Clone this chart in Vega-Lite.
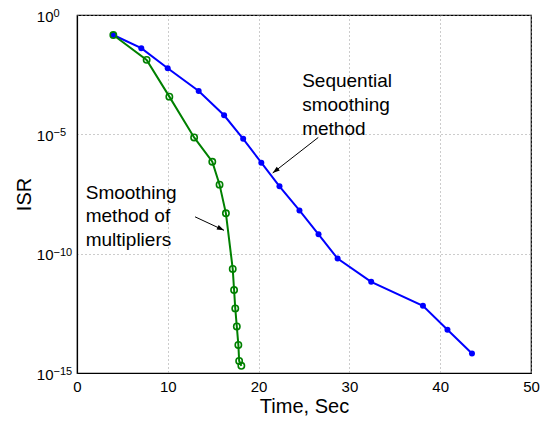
{
  "$schema": "https://vega.github.io/schema/vega-lite/v6.json",
  "width": 454,
  "height": 358,
  "autosize": "none",
  "padding": {"left": 77, "top": 15, "right": 20, "bottom": 50},
  "background": "white",
  "config": {
    "view": {"stroke": "black", "strokeWidth": 1.2},
    "font": "Liberation Sans",
    "axis": {
      "labelFont": "Liberation Sans",
      "titleFont": "Liberation Sans",
      "labelColor": "black",
      "titleColor": "black",
      "labelFontSize": 15,
      "titleFontSize": 20,
      "titleFontWeight": "normal",
      "domainColor": "black",
      "domainWidth": 1.2,
      "tickColor": "black",
      "gridColor": "#999999",
      "gridDash": [1, 3],
      "gridWidth": 1
    }
  },
  "datasets": {
    "series": [
      {"method": "Sequential", "t": 4.0, "isr": 0.145},
      {"method": "Sequential", "t": 7.08, "isr": 0.0407},
      {"method": "Sequential", "t": 9.99, "isr": 0.00589},
      {"method": "Sequential", "t": 13.4, "isr": 6.6e-4},
      {"method": "Sequential", "t": 16.2, "isr": 6.3e-5},
      {"method": "Sequential", "t": 18.3, "isr": 6.5e-6},
      {"method": "Sequential", "t": 20.3, "isr": 6.5e-7},
      {"method": "Sequential", "t": 22.3, "isr": 6.6e-8},
      {"method": "Sequential", "t": 24.5, "isr": 6.5e-9},
      {"method": "Sequential", "t": 26.6, "isr": 6.5e-10},
      {"method": "Sequential", "t": 28.7, "isr": 6.2e-11},
      {"method": "Sequential", "t": 32.4, "isr": 6.6e-12},
      {"method": "Sequential", "t": 38.1, "isr": 6.5e-13},
      {"method": "Sequential", "t": 40.8, "isr": 6.5e-14},
      {"method": "Sequential", "t": 43.5, "isr": 6.6e-15},
      {"method": "Multipliers", "t": 4.0, "isr": 0.145},
      {"method": "Multipliers", "t": 7.67, "isr": 0.0132},
      {"method": "Multipliers", "t": 10.17, "isr": 3.8e-4},
      {"method": "Multipliers", "t": 12.9, "isr": 7.4e-6},
      {"method": "Multipliers", "t": 14.9, "isr": 7.1e-7},
      {"method": "Multipliers", "t": 15.7, "isr": 7.8e-8},
      {"method": "Multipliers", "t": 16.4, "isr": 4.9e-9},
      {"method": "Multipliers", "t": 17.15, "isr": 2.3e-11},
      {"method": "Multipliers", "t": 17.3, "isr": 3.0e-12},
      {"method": "Multipliers", "t": 17.43, "isr": 5.1e-13},
      {"method": "Multipliers", "t": 17.6, "isr": 8.9e-14},
      {"method": "Multipliers", "t": 17.77, "isr": 1.5e-14},
      {"method": "Multipliers", "t": 17.86, "isr": 3.2e-15},
      {"method": "Multipliers", "t": 18.1, "isr": 2.0e-15}
    ],
    "labels": [
      {"text": "Sequential", "t": 24.8, "isr": 9.3e-4},
      {"text": "smoothing", "t": 24.8, "isr": 9.3e-5},
      {"text": "method", "t": 24.8, "isr": 9.3e-6},
      {"text": "Smoothing", "t": 0.96, "isr": 2.04e-8},
      {"text": "method of", "t": 0.96, "isr": 2.04e-9},
      {"text": "multipliers", "t": 0.96, "isr": 2.04e-10}
    ],
    "exponents": [
      {"isr": 1, "exp": "0"},
      {"isr": 1e-5, "exp": "−5"},
      {"isr": 1e-10, "exp": "−10"},
      {"isr": 1e-15, "exp": "−15"}
    ],
    "arrows": [
      {"t": 26.57, "isr": 7.4e-6, "t2": 21.55, "isr2": 2.4e-7, "angle": 232},
      {"t": 13.0, "isr": 3.5e-9, "t2": 16.19, "isr2": 9.5e-10, "angle": 115}
    ]
  },
  "layer": [
    {
      "data": {"name": "series"},
      "mark": {"type": "line", "strokeWidth": 2},
      "encoding": {
        "x": {
          "field": "t", "type": "quantitative",
          "scale": {"domain": [0, 50], "nice": false, "zero": false},
          "axis": {"values": [0, 10, 20, 30, 40, 50], "title": "Time, Sec", "grid": true, "tickSize": 0, "labelPadding": 6, "titlePadding": 2, "labelFlush": false}
        },
        "y": {
          "field": "isr", "type": "quantitative",
          "scale": {"type": "log", "domain": [1e-15, 1], "nice": false},
          "axis": {
            "values": [1e-15, 1e-10, 1e-5, 1],
            "title": "ISR",
            "grid": true,
            "tickSize": 0,
            "labelPadding": 24,
            "titlePadding": 2,
            "labelFlush": false,
            "labelBaseline": "alphabetic",
            "labelOffset": 6,
            "labelExpr": "'10'"
          }
        },
        "color": {
          "field": "method", "type": "nominal",
          "scale": {"domain": ["Sequential", "Multipliers"], "range": ["#0000ff", "#008000"]},
          "legend": null
        },
        "order": {"field": "t"}
      }
    },
    {
      "data": {"name": "exponents"},
      "mark": {"type": "text", "align": "left", "baseline": "alphabetic", "fontSize": 11, "color": "black", "font": "Liberation Sans", "dx": -23.5, "dy": 2},
      "encoding": {
        "x": {"datum": 0, "type": "quantitative"},
        "y": {"field": "isr", "type": "quantitative"},
        "text": {"field": "exp"}
      }
    },
    {
      "data": {"name": "series"},
      "transform": [{"filter": "datum.method == 'Sequential'"}],
      "mark": {"type": "point", "filled": true, "size": 36, "opacity": 1, "color": "#0000ff"},
      "encoding": {
        "x": {"field": "t", "type": "quantitative"},
        "y": {"field": "isr", "type": "quantitative"}
      }
    },
    {
      "data": {"name": "series"},
      "transform": [{"filter": "datum.method == 'Multipliers'"}],
      "mark": {"type": "point", "filled": false, "size": 40, "strokeWidth": 1.6, "opacity": 1, "color": "#008000"},
      "encoding": {
        "x": {"field": "t", "type": "quantitative"},
        "y": {"field": "isr", "type": "quantitative"}
      }
    },
    {
      "data": {"name": "labels"},
      "mark": {"type": "text", "align": "left", "baseline": "alphabetic", "fontSize": 19, "color": "black", "font": "Liberation Sans"},
      "encoding": {
        "x": {"field": "t", "type": "quantitative"},
        "y": {"field": "isr", "type": "quantitative"},
        "text": {"field": "text"}
      }
    },
    {
      "data": {"name": "arrows"},
      "mark": {"type": "rule", "color": "black", "strokeWidth": 1},
      "encoding": {
        "x": {"field": "t", "type": "quantitative"},
        "y": {"field": "isr", "type": "quantitative"},
        "x2": {"field": "t2"},
        "y2": {"field": "isr2"}
      }
    },
    {
      "data": {"name": "arrows"},
      "mark": {"type": "point", "shape": "M0,0 L-0.35,1 L0.35,1 Z", "filled": true, "size": 200, "color": "black", "opacity": 1},
      "encoding": {
        "x": {"field": "t2", "type": "quantitative"},
        "y": {"field": "isr2", "type": "quantitative"},
        "angle": {"field": "angle", "type": "quantitative", "scale": null}
      }
    }
  ]
}
